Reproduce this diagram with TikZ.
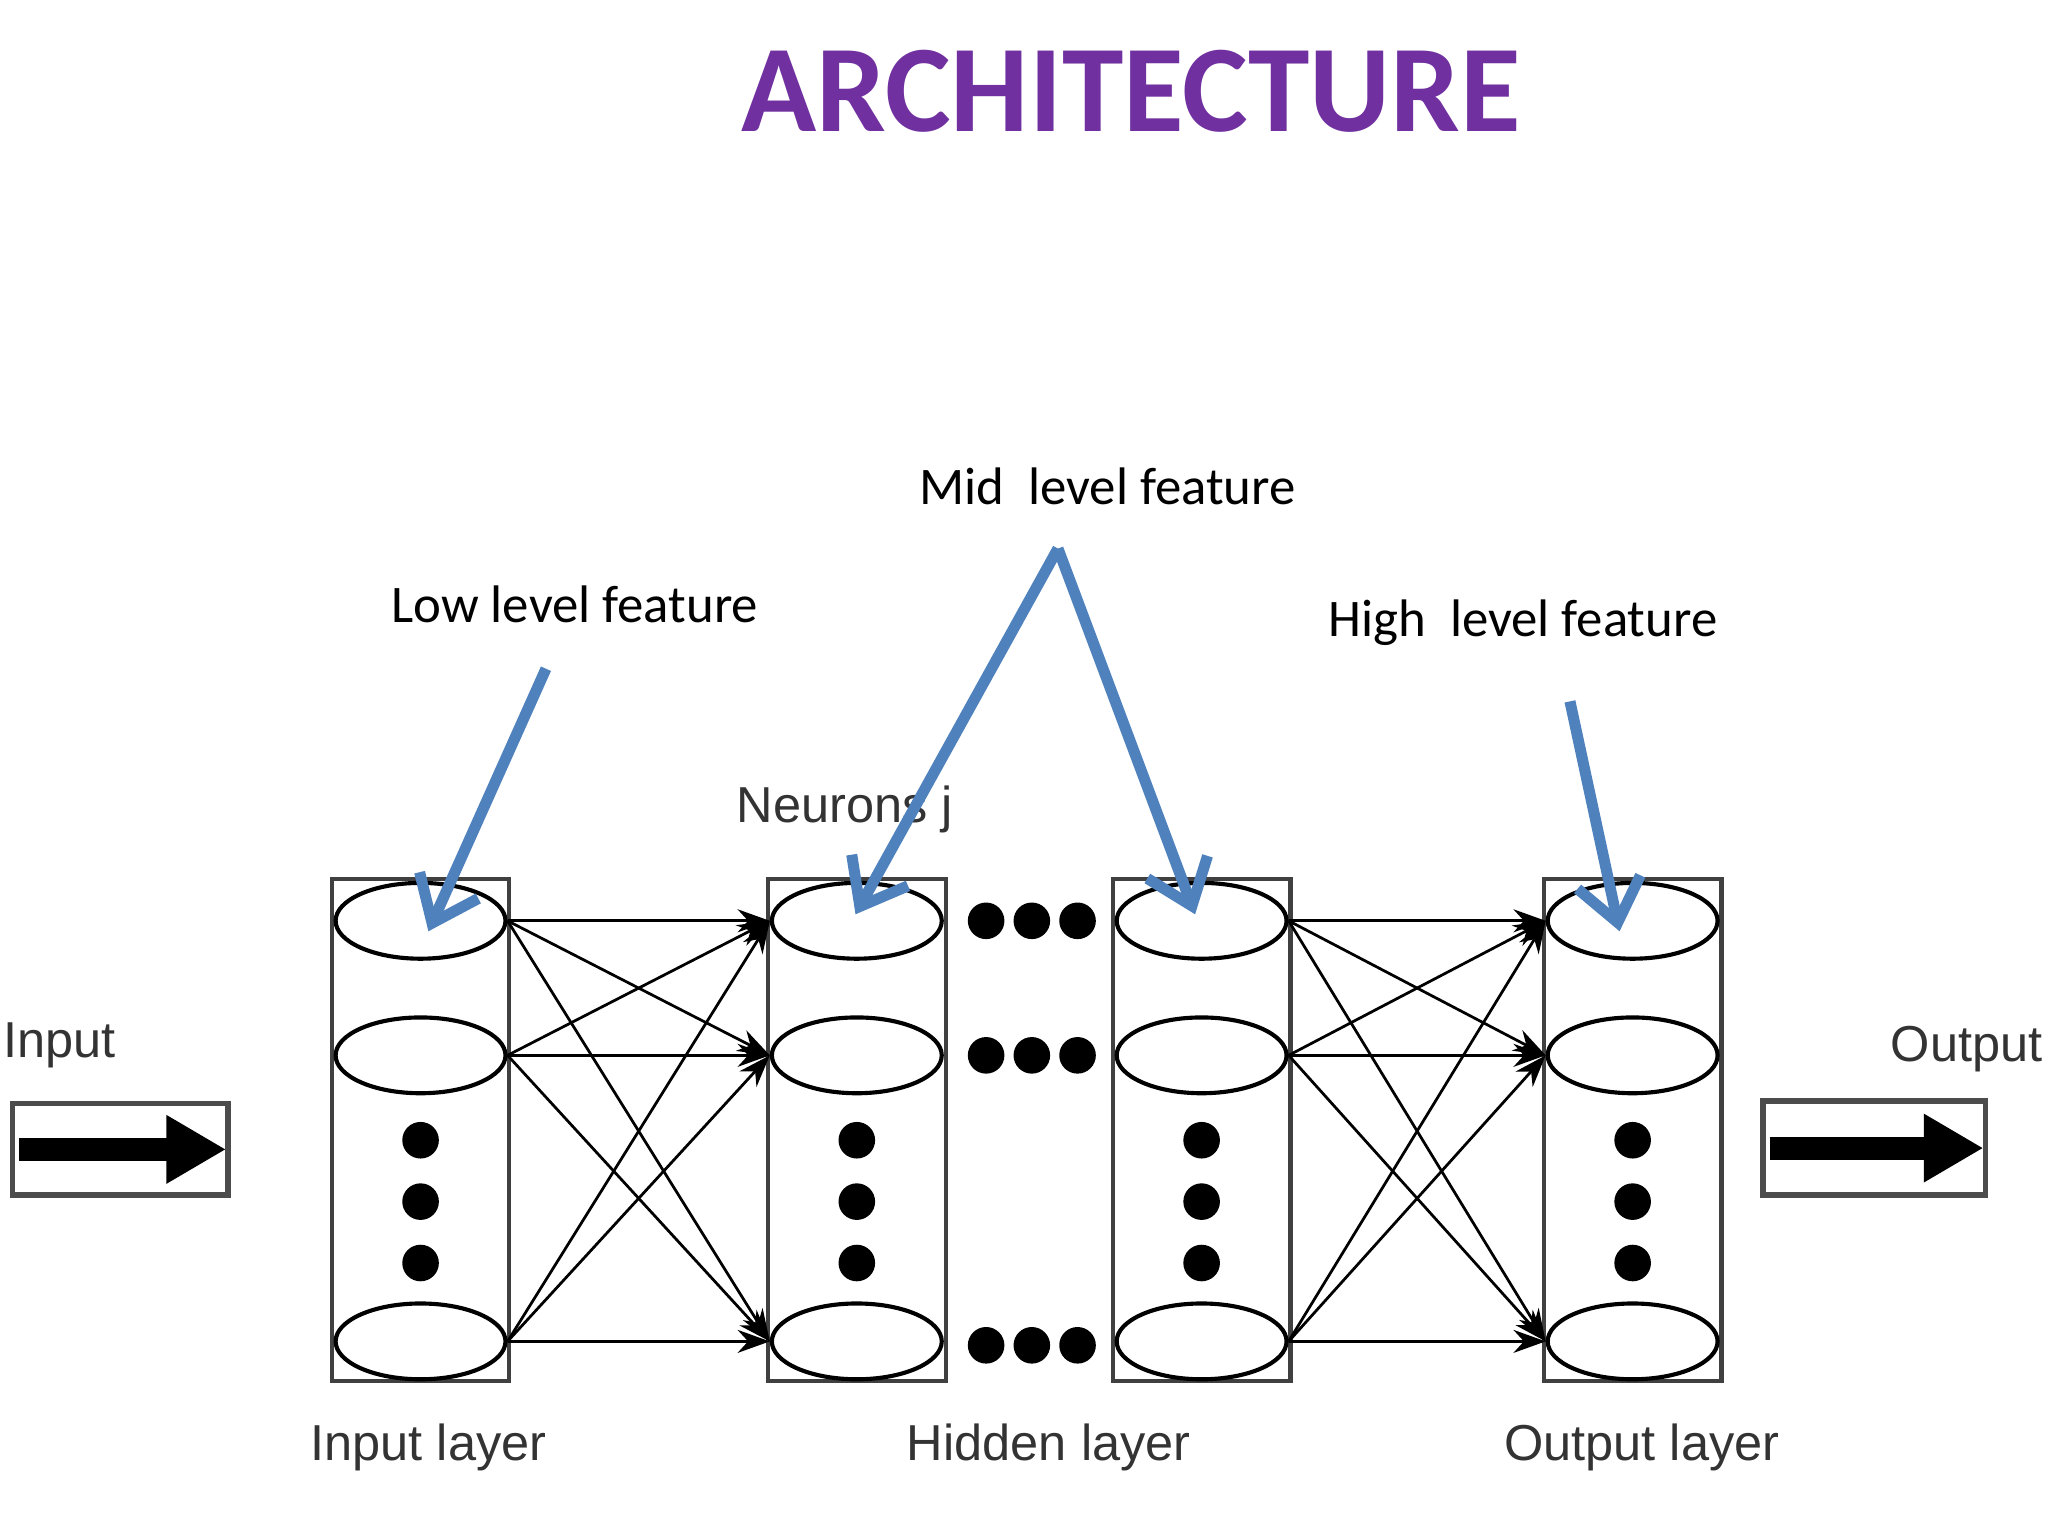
\documentclass[tikz,border=0pt]{standalone}
\usepackage{fontspec}
\setmainfont{Liberation Sans}
\newfontfamily\calfont{Carlito}
\usetikzlibrary{arrows.meta,shapes.geometric}
\definecolor{tpurple}{HTML}{7030A0}
\definecolor{bl}{HTML}{4F81BD}
\begin{document}
\begin{tikzpicture}[x=0.01cm,y=-0.01cm,
  neu/.style={ellipse,draw,line width=0.9pt,minimum width=1.3cm,minimum height=0.58cm,inner sep=0pt},
  col/.style={draw=black!75,line width=0.9pt},
  dot/.style={circle,fill=black,minimum size=0.28cm,inner sep=0pt},
  con/.style={line width=0.6pt,-{Stealth[length=7pt,width=5pt]}},
  lab/.style={font=\fontsize{11}{13}\selectfont,text=black!80},
  feat/.style={font=\calfont\fontsize{11.5}{14}\selectfont},
  barr/.style={bl,line width=2.4pt,-{Straight Barb[length=9pt,width=14pt,line width=2.4pt]}}]
\useasboundingbox (0,0) rectangle (1568,1176);
\node[font=\calfont\bfseries\fontsize{27}{30}\selectfont,text=tpurple] (title) at (866,70) {ARCHITECTURE};
% columns
\foreach \n/\x in {a/322,b/656,c/920,d/1250}{
  \draw[col] (\x-68,673) rectangle (\x+68,1057);
  \node[neu] (\n1) at (\x,705) {};
  \node[neu] (\n2) at (\x,808) {};
  \node[neu] (\n3) at (\x,1027) {};
  \foreach \y in {873,920,967} \node[dot] (\n d\y) at (\x,\y) {};
}
\foreach \y in {705,808,1030} \foreach \x in {755,790,825} \node[dot] (h\x\y) at (\x,\y) {};
\foreach \i in {1,2,3} \foreach \j in {1,2,3} {
  \draw[con] (a\i.east) -- (b\j.west);
  \draw[con] (c\i.east) -- (d\j.west);
}
% input/output boxes
\node[draw=black!70,line width=1.2pt,minimum width=1.65cm,minimum height=0.7cm] (ib) at (92,880) {};
\node[draw=black!70,line width=1.2pt,minimum width=1.7cm,minimum height=0.72cm] (ob) at (1435,879) {};
\draw[line width=5pt,-{Triangle[length=13pt,width=14pt]}] ([xshift=2pt]ib.west) -- ([xshift=-1pt]ib.east);
\draw[line width=5pt,-{Triangle[length=13pt,width=14pt]}] ([xshift=2pt]ob.west) -- ([xshift=-1pt]ob.east);
\node[lab,anchor=west,inner sep=0pt] (in) at (2,800) {Input};
\node[lab,anchor=west,inner sep=0pt] (out) at (1447,803) {Output};
\node[lab] (il) at (328,1108) {Input layer};
\node[lab] (hl) at (803,1108) {Hidden layer};
\node[lab] (ol) at (1257,1108) {Output layer};
\node[lab] (nj) at (647,620) {Neurons j};
% features
\node[feat] (low) at (440,463) {Low level feature};
\node[feat] (mid) at (848,372) {Mid\ \ level feature};
\node[feat] (high) at (1166,477) {High\ \ level feature};
\coordinate (lowS) at (418,512);
\coordinate (midS) at (810,420);
\coordinate (highS) at (1202,537);
\draw[barr] (lowS) -- (328,713);
\draw[barr] (midS) -- (655,700);
\draw[barr] (midS) -- (915,700);
\draw[barr] (highS) -- (1240,713);
\end{tikzpicture}
\end{document}
